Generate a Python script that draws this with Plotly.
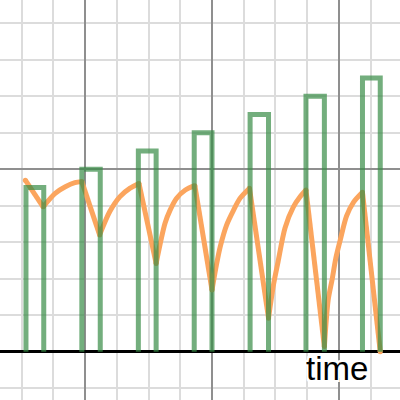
import plotly.graph_objects as go

# Green pulses: left edge, right edge and height of each bar
bar_left = [1.07, 1.95, 2.84, 3.72, 4.60, 5.48, 6.37]
bar_right = [1.35, 2.24, 3.12, 4.00, 4.89, 5.77, 6.65]
bar_height = [4.5, 5.0, 5.5, 6.0, 6.5, 7.0, 7.5]

# Orange response: starting point, each recovery (trough -> peak), end point
start_x, start_y = 1.06, 4.70
end_x, end_y = 6.65, 0.00
rise_x = [
    [1.34, 1.53, 1.69, 1.84, 1.95],
    [2.23, 2.39, 2.55, 2.71, 2.85],
    [3.12, 3.26, 3.34, 3.44, 3.58, 3.73],
    [4.00, 4.07, 4.13, 4.23, 4.34, 4.44, 4.59],
    [4.89, 4.97, 5.04, 5.15, 5.28, 5.39, 5.48],
    [5.77, 5.83, 5.89, 5.95, 6.02, 6.12, 6.23, 6.37],
]
rise_y = [
    [3.97, 4.34, 4.52, 4.63, 4.66],
    [3.20, 3.84, 4.25, 4.48, 4.61],
    [2.42, 3.52, 3.88, 4.20, 4.43, 4.55],
    [1.69, 2.38, 2.88, 3.47, 3.88, 4.20, 4.48],
    [0.92, 1.85, 2.46, 3.39, 3.96, 4.25, 4.43],
    [0.14, 1.42, 1.96, 2.56, 3.06, 3.72, 4.10, 4.37],
]

axis_label = 'time'

ORANGE = '#fba55e'
GREEN = 'rgba(56, 140, 70, 0.7)'

# recovery curves, one smooth piece each
rx, ry = [], []
for xs, ys in zip(rise_x, rise_y):
    rx += xs + [None]
    ry += ys + [None]

# straight falls while a pulse is on: previous peak -> next trough
peaks = [(start_x, start_y)] + [(xs[-1], ys[-1]) for xs, ys in zip(rise_x, rise_y)]
troughs = [(xs[0], ys[0]) for xs, ys in zip(rise_x, rise_y)] + [(end_x, end_y)]
dx, dy = [], []
for (px, py), (tx, ty) in zip(peaks, troughs):
    dx += [px, tx, None]
    dy += [py, ty, None]

# open-bottom rectangle outline for every pulse
bx, by = [], []
for l, r, h in zip(bar_left, bar_right, bar_height):
    bx += [l, l, r, r, None]
    by += [0, h, h, 0, None]

fig = go.Figure()

fig.add_trace(go.Scatter(
    x=rx, y=ry, mode='lines',
    line=dict(color=ORANGE, width=5, shape='spline', smoothing=0.8),
    hoverinfo='skip'
))

fig.add_trace(go.Scatter(
    x=dx, y=dy, mode='lines+markers',
    line=dict(color=ORANGE, width=5),
    marker=dict(color=ORANGE, size=5),
    hoverinfo='skip'
))

fig.add_trace(go.Scatter(
    x=bx, y=by, mode='lines',
    line=dict(color=GREEN, width=5),
    hoverinfo='skip'
))

fig.add_annotation(
    text=axis_label,
    xref='paper', yref='paper',
    x=0.843, y=0.13,
    xanchor='center', yanchor='top',
    showarrow=False,
    font=dict(family='Liberation Sans, Arial', size=33, color='black',
              shadow='2px 2px 0 white, -2px -2px 0 white, 2px -2px 0 white, -2px 2px 0 white')
)

fig.update_layout(
    width=400, height=400,
    margin=dict(l=0, r=0, t=0, b=0),
    plot_bgcolor='white',
    paper_bgcolor='white',
    showlegend=False,
    xaxis=dict(
        range=[0.661, 6.961],
        dtick=2, tick0=0,
        showgrid=True, gridcolor='#8f8f8f', gridwidth=1.5,
        minor=dict(dtick=0.5, showgrid=True, gridcolor='#dcdcdc', gridwidth=1.5),
        showticklabels=False, ticks='',
        zeroline=False, showline=False
    ),
    yaxis=dict(
        range=[-1.323, 9.636],
        dtick=5, tick0=0,
        showgrid=True, gridcolor='#8f8f8f', gridwidth=1.5,
        minor=dict(dtick=1, showgrid=True, gridcolor='#dcdcdc', gridwidth=1.5),
        showticklabels=False, ticks='',
        zeroline=True, zerolinecolor='black', zerolinewidth=3,
        showline=False
    )
)

# page has a default body margin; drop it so the figure sits at the corner
fig.write_html("out.html", config={'displayModeBar': False},
               post_script="document.body.style.margin='0px';")
